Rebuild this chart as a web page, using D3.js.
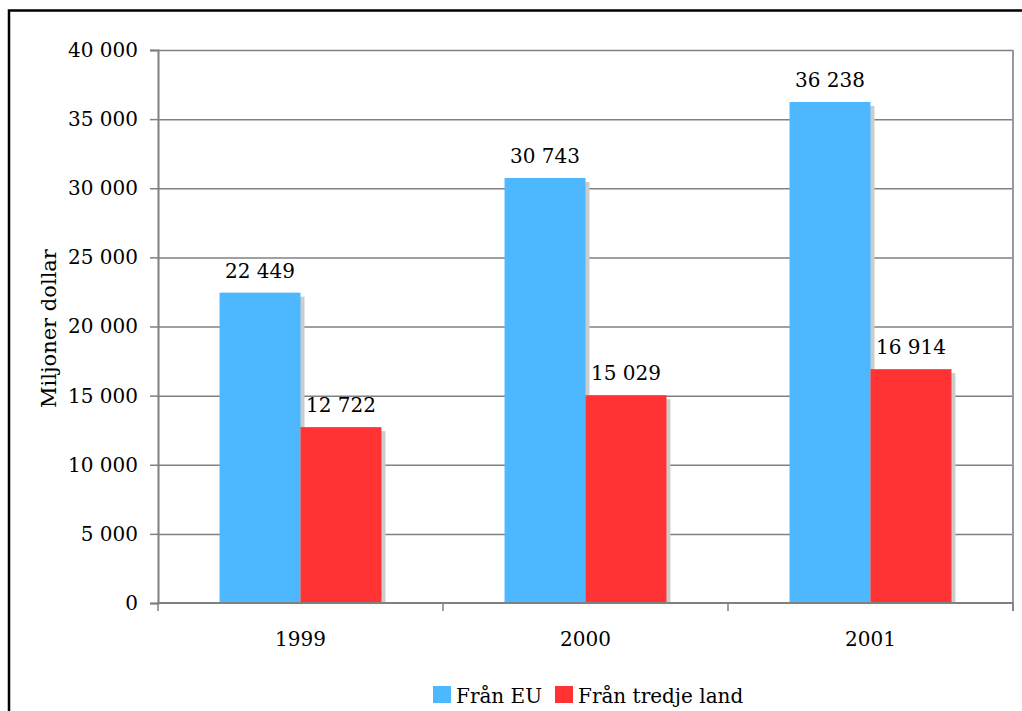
<!DOCTYPE html>
<html>
<head>
<meta charset="utf-8">
<script src="https://cdn.jsdelivr.net/npm/d3@7"></script>
<style>
  html, body { margin: 0; padding: 0; background: #fff; }
  svg { display: block; }
  svg text { font-family: "DejaVu Serif", serif; }
</style>
</head>
<body>
<svg id="chart" width="1022" height="711"></svg>
<script>
// Import values in million dollars, by year and origin
const years = ["1999", "2000", "2001"];
const seriesNames = ["Från EU", "Från tredje land"];
const fromEU = [22449, 30743, 36238];
const fromThird = [12722, 15029, 16914];
const yTicks = [0, 5000, 10000, 15000, 20000, 25000, 30000, 35000, 40000];
const colors = ["#4db8ff", "#ff3333"];

const FONT = "'DejaVu Serif', serif";
const FS = 20;

const svg = d3.select("#chart");
const W = 1022, H = 711;
const plot = { left: 158, right: 1013, top: 50, bottom: 603 };

// Outer frame
svg.append("rect")
  .attr("x", 9).attr("y", 10.5)
  .attr("width", W + 10).attr("height", H + 10)
  .attr("fill", "none").attr("stroke", "#000").attr("stroke-width", 2.5);

const x = d3.scaleBand().domain(years).range([plot.left, plot.right]);
const xInner = d3.scaleBand().domain(seriesNames)
  .range([0, x.bandwidth()]).paddingOuter(0.76).paddingInner(0);
const y = d3.scaleLinear().domain([0, 40000]).range([plot.bottom, plot.top]);

const fmt = v => d3.format(",")(v).replace(/,/g, " ");

// Gridlines
svg.append("g").selectAll("line").data(yTicks.filter(t => t > 0)).join("line")
  .attr("x1", plot.left).attr("x2", plot.right)
  .attr("y1", d => y(d) + 0.5).attr("y2", d => y(d) + 0.5)
  .attr("stroke", "#808080").attr("stroke-width", 1.5);

// Right border of plot area
svg.append("line")
  .attr("x1", plot.right).attr("x2", plot.right)
  .attr("y1", plot.top).attr("y2", plot.bottom + 8)
  .attr("stroke", "#999").attr("stroke-width", 2);

// Bars with drop shadows
const groups = years.map((yr, i) => ({ yr, vals: [fromEU[i], fromThird[i]] }));
const g = svg.append("g");
groups.forEach(gr => {
  gr.vals.forEach((v, j) => {
    const bx = x(gr.yr) + xInner(seriesNames[j]);
    const bw = xInner.bandwidth();
    g.append("rect")
      .attr("x", bx + 4).attr("y", y(v) + 4)
      .attr("width", bw).attr("height", plot.bottom - y(v) - 4)
      .attr("fill", "#cccccc");
  });
  gr.vals.forEach((v, j) => {
    const bx = x(gr.yr) + xInner(seriesNames[j]);
    const bw = xInner.bandwidth();
    g.append("rect")
      .attr("x", bx).attr("y", y(v))
      .attr("width", bw).attr("height", plot.bottom - y(v))
      .attr("fill", colors[j]);
    g.append("text")
      .attr("x", bx + bw / 2).attr("y", y(v) - 15)
      .attr("text-anchor", "middle")
      .attr("font-family", FONT)
      .attr("font-size", FS).attr("fill", "#000")
      .text(fmt(v));
  });
});

// Y axis
const yAxis = d3.axisLeft(y).tickValues(yTicks).tickSize(8).tickPadding(12)
  .tickFormat(fmt);
const ya = svg.append("g").attr("transform", `translate(${plot.left},0)`).call(yAxis);
ya.attr("font-family", FONT);
ya.select(".domain").attr("stroke", "#808080").attr("stroke-width", 2);
ya.selectAll(".tick line").attr("stroke", "#808080").attr("stroke-width", 1.5);
ya.selectAll(".tick text").attr("font-size", FS).attr("fill", "#000")
  .attr("font-family", FONT);

// X axis baseline and category boundary ticks
svg.append("line")
  .attr("x1", plot.left).attr("x2", plot.right)
  .attr("y1", plot.bottom).attr("y2", plot.bottom)
  .attr("stroke", "#808080").attr("stroke-width", 2);
const bounds = years.map(yr => x(yr)).concat([plot.right]);
svg.append("g").selectAll("line").data(bounds).join("line")
  .attr("x1", d => d).attr("x2", d => d)
  .attr("y1", plot.bottom).attr("y2", plot.bottom + 8)
  .attr("stroke", "#808080").attr("stroke-width", 1.5);
svg.append("g").selectAll("text").data(years).join("text")
  .attr("x", d => x(d) + x.bandwidth() / 2)
  .attr("y", 646)
  .attr("text-anchor", "middle")
  .attr("font-family", FONT)
  .attr("font-size", FS).attr("fill", "#000")
  .text(d => d);

// Y axis title
svg.append("text")
  .attr("transform", `translate(56,${(plot.top + plot.bottom) / 2 + 2}) rotate(-90)`)
  .attr("text-anchor", "middle")
  .attr("font-family", FONT)
  .attr("font-size", 21).attr("fill", "#000")
  .text("Miljoner dollar");

// Legend
const legend = svg.append("g").attr("transform", "translate(433,686)");
const legendX = [0, 122];
seriesNames.forEach((name, j) => {
  legend.append("rect")
    .attr("x", legendX[j]).attr("y", 0)
    .attr("width", 18).attr("height", 17)
    .attr("fill", colors[j]);
  legend.append("text")
    .attr("x", legendX[j] + 23).attr("y", 17)
    .attr("font-family", FONT)
    .attr("font-size", FS).attr("fill", "#000")
    .text(name);
});
</script>
</body>
</html>
